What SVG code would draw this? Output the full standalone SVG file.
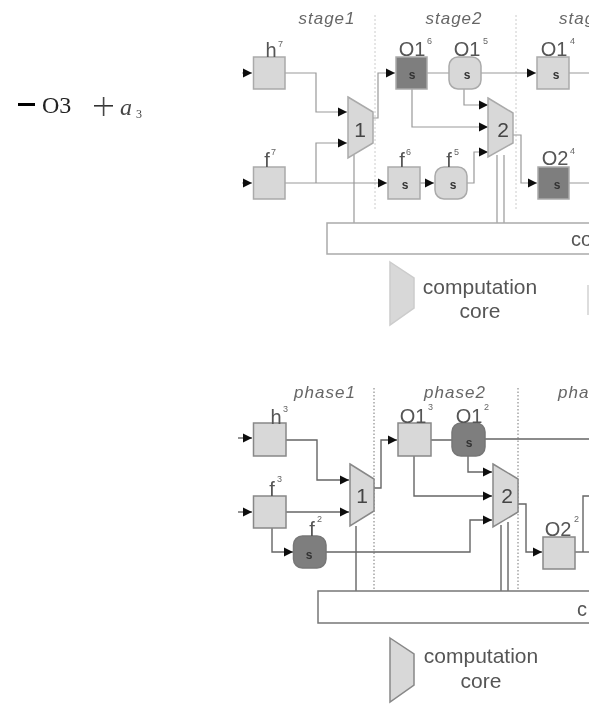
<svg xmlns="http://www.w3.org/2000/svg" width="589" height="705" viewBox="0 0 589 705">
<style>
text{font-family:"Liberation Sans",Arial,sans-serif;fill:#444}
.st{font-size:17px;font-style:italic;text-anchor:middle;fill:#666;letter-spacing:1px}
.lb{font-size:20px;text-anchor:middle;fill:#555}
.sup{font-size:9px;fill:#666}
.s{font-size:12px;font-weight:bold;text-anchor:middle;fill:#333}
.n{font-size:21px;text-anchor:middle;fill:#444}
.lg{font-size:21px;text-anchor:middle;fill:#555}
.t .b,.t .bd{stroke:#aaa;stroke-width:1.5}
.b{fill:#d8d8d8;stroke:#888;stroke-width:1.5}
.bd{fill:#7e7e7e;stroke:#777;stroke-width:1.5}
.c{fill:none;stroke:#999;stroke-width:1.2}
.c2{fill:none;stroke:#666;stroke-width:1.4}
.d1{stroke:#ccc;stroke-width:1;stroke-dasharray:2 2;fill:none}
.d2{stroke:#777;stroke-width:1;stroke-dasharray:1.5 2;fill:none}
.bus{fill:#fff;stroke:#aaa;stroke-width:1.5}
.bus2{fill:#fff;stroke:#777;stroke-width:1.5}
</style>
<defs>
<marker id="a" markerUnits="userSpaceOnUse" markerWidth="10" markerHeight="10" refX="9" refY="5" orient="auto"><path d="M0 0.5L9 5L0 9.5Z" fill="#111"/></marker>
<filter id="f" x="-5%" y="-5%" width="110%" height="110%"><feGaussianBlur stdDeviation="0.7"/></filter>
</defs>
<rect width="589" height="705" fill="#fff"/>
<g filter="url(#f)">
<g id="equation">
<rect x="18" y="103" width="17" height="3" fill="#000"/>
<text x="42" y="113" style="font-family:'Liberation Serif',serif;font-size:24px;fill:#222">O3</text>
<rect x="94" y="105" width="19" height="1.6" fill="#333"/>
<rect x="102.800" y="97" width="1.600" height="19" fill="#444"/>
<text x="120" y="115" style="font-family:'Liberation Serif',serif;font-size:24px;font-style:italic;fill:#444">a</text>
<text x="136" y="118" style="font-family:'Liberation Serif',serif;font-size:12px;fill:#444">3</text>
</g>
<g id="top-dividers">
<path class="d1" d="M375 15V210M516 15V210"/>
</g>
<g id="top-connectors">
<path class="c" d="M285 73H316V112H347" marker-end="url(#a)"/>
<path class="c" d="M285 183H387" marker-end="url(#a)"/>
<path class="c" d="M316 183V143H347" marker-end="url(#a)"/>
<path class="c" d="M373 118H378V73H395" marker-end="url(#a)"/>
<path class="c" d="M427 73H449M481 73H536" marker-end="url(#a)"/>
<path class="c" d="M464 89V105H488" marker-end="url(#a)"/>
<path class="c" d="M412 89V127H488" marker-end="url(#a)"/>
<path class="c" d="M467 183H474V152H488" marker-end="url(#a)"/>
<path class="c" d="M420 183H434" marker-end="url(#a)"/>
<path class="c" d="M513 135H521V183H537" marker-end="url(#a)"/>
<path class="c" d="M569 73H589M569 183H589"/>
<path class="c" d="M354 155V223M497 155V223M504 155V223"/>
<path class="c" d="M242 73H252" marker-end="url(#a)"/>
<path class="c" d="M242 183H252" marker-end="url(#a)"/>
</g>
<g id="top-stages">
<text class="st" x="327" y="24">stage1</text>
<text class="st" x="454" y="24">stage2</text>
<text class="st" x="559" y="24" style="text-anchor:start">stag</text>
</g>
<g class="t">
<g id="h7"><rect class="b" x="253.500" y="57" width="31.500" height="32"/><text class="lb" x="271" y="57">h</text><text class="sup" x="278" y="47">7</text></g>
<g id="f7"><rect class="b" x="253.500" y="167" width="31.500" height="32"/><text class="lb" x="267" y="167">f</text><text class="sup" x="271" y="155">7</text></g>
<g id="o16"><rect class="bd" x="396" y="57" width="31" height="32"/><text class="lb" x="412" y="56">O1</text><text class="sup" x="427" y="44">6</text><text class="s" x="412" y="79">s</text></g>
<g id="o15"><rect class="b" x="449" y="57" width="32" height="32" rx="9"/><text class="lb" x="467" y="56">O1</text><text class="sup" x="483" y="44">5</text><text class="s" x="467" y="79">s</text></g>
<g id="o14"><rect class="b" x="537" y="57" width="32" height="32"/><text class="lb" x="554" y="56">O1</text><text class="sup" x="570" y="44">4</text><text class="s" x="556" y="79">s</text></g>
<g id="f6"><rect class="b" x="388" y="167" width="32" height="32"/><text class="lb" x="402" y="167">f</text><text class="sup" x="406" y="155">6</text><text class="s" x="405" y="189">s</text></g>
<g id="f5"><rect class="b" x="435" y="167" width="32" height="32" rx="9"/><text class="lb" x="449" y="167">f</text><text class="sup" x="454" y="155">5</text><text class="s" x="453" y="189">s</text></g>
<g id="o24"><rect class="bd" x="538" y="167" width="31" height="32"/><text class="lb" x="555" y="165">O2</text><text class="sup" x="570" y="154">4</text><text class="s" x="557" y="189">s</text></g>
<g id="core1"><path class="b" d="M348 97L373 112V143L348 158Z"/><text class="n" x="360" y="137">1</text></g>
<g id="core2"><path class="b" d="M488 98L513 113V143L488 157Z"/><text class="n" x="503" y="137">2</text></g>
<g id="bus-top"><path class="bus" d="M589 223H327V254H589"/><text class="lb" x="571" y="246" style="text-anchor:start">co</text></g>
<g id="legend-top"><path class="b" d="M390 262L414 278V308L390 325Z" style="stroke:#ccc"/><text class="lg" x="480" y="294">computation</text><text class="lg" x="480" y="318">core</text><rect x="587" y="285" width="2" height="30" fill="#ddd"/></g>
</g>
<g id="bottom-dividers">
<path class="d2" d="M374 388V590M518 388V590"/>
</g>
<g id="bottom-connectors">
<path class="c2" d="M286 440H317V480H349" marker-end="url(#a)"/>
<path class="c2" d="M286 512H349" marker-end="url(#a)"/>
<path class="c2" d="M272 528V552H293" marker-end="url(#a)"/>
<path class="c2" d="M326 552H470V520H492" marker-end="url(#a)"/>
<path class="c2" d="M374 488H381V440H397" marker-end="url(#a)"/>
<path class="c2" d="M431 440H452M485 439H589"/>
<path class="c2" d="M468 456V472H492" marker-end="url(#a)"/>
<path class="c2" d="M414 456V496H492" marker-end="url(#a)"/>
<path class="c2" d="M518 504H526V552H542" marker-end="url(#a)"/>
<path class="c2" d="M575 552H589"/>
<path class="c2" d="M589 496H583V552"/>
<path class="c2" d="M356 526V591M501 525V591M508 522V591"/>
<path class="c2" d="M238 438H252" marker-end="url(#a)"/>
<path class="c2" d="M238 512H252" marker-end="url(#a)"/>
</g>
<g id="bottom-phases">
<text class="st" x="325" y="398">phase1</text>
<text class="st" x="455" y="398">phase2</text>
<text class="st" x="558" y="398" style="text-anchor:start">pha</text>
</g>
<g id="h3"><rect class="b" x="253.500" y="423" width="32.500" height="33"/><text class="lb" x="276" y="424">h</text><text class="sup" x="283" y="412">3</text></g>
<g id="f3"><rect class="b" x="253.500" y="496" width="32.500" height="32"/><text class="lb" x="272" y="496">f</text><text class="sup" x="277" y="482">3</text></g>
<g id="f2"><rect class="bd" x="293.500" y="536" width="32.500" height="32" rx="9"/><text class="lb" x="312" y="536">f</text><text class="sup" x="317" y="522">2</text><text class="s" x="309" y="559">s</text></g>
<g id="o13"><rect class="b" x="398" y="423" width="33" height="33"/><text class="lb" x="413" y="423">O1</text><text class="sup" x="428" y="410">3</text></g>
<g id="o12"><rect class="bd" x="452" y="423" width="33" height="33" rx="9"/><text class="lb" x="469" y="423">O1</text><text class="sup" x="484" y="410">2</text><text class="s" x="469" y="447">s</text></g>
<g id="o22"><rect class="b" x="543" y="537" width="32" height="32"/><text class="lb" x="558" y="536">O2</text><text class="sup" x="574" y="522">2</text></g>
<g id="core1b"><path class="b" d="M350 464L374 479V511L350 526Z"/><text class="n" x="362" y="503">1</text></g>
<g id="core2b"><path class="b" d="M493 464L518 479V512L493 527Z"/><text class="n" x="507" y="503">2</text></g>
<g id="bus-bottom"><path class="bus2" d="M589 591H318V623H589"/><text class="lb" x="577" y="616" style="text-anchor:start">c</text></g>
<g id="legend-bottom"><path class="b" d="M390 638L414 654V685L390 702Z"/><text class="lg" x="481" y="663">computation</text><text class="lg" x="481" y="688">core</text></g>
</g>
</svg>
